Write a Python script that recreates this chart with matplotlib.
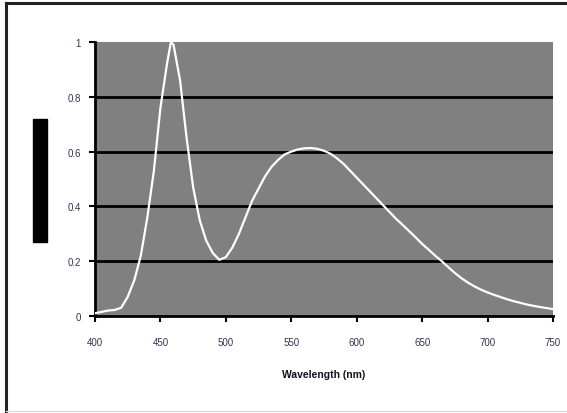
import matplotlib
matplotlib.use("Agg")
import matplotlib.pyplot as plt
from matplotlib.patches import Rectangle
from matplotlib.lines import Line2D

wavelength = [400, 405, 410, 415, 420, 425, 430, 435, 440, 445, 450, 455, 458, 460,
              465, 470, 475, 480, 485, 490, 495, 500, 505, 510, 515, 520, 525, 530,
              535, 540, 545, 550, 555, 560, 565, 570, 575, 580, 585, 590, 595, 600,
              605, 610, 615, 620, 625, 630, 635, 640, 645, 650, 655, 660, 665, 670,
              675, 680, 685, 690, 695, 700, 705, 710, 715, 720, 725, 730, 735, 740,
              745, 750]
intensity = [0.01, 0.015, 0.02, 0.022, 0.03, 0.07, 0.13, 0.22, 0.36, 0.53, 0.76, 0.92, 1.00, 0.99,
             0.86, 0.65, 0.47, 0.35, 0.275, 0.23, 0.205, 0.215, 0.25, 0.30, 0.36, 0.42, 0.465, 0.51,
             0.545, 0.57, 0.59, 0.60, 0.608, 0.612, 0.613, 0.61, 0.603, 0.592, 0.575, 0.555, 0.53, 0.505,
             0.48, 0.455, 0.43, 0.405, 0.38, 0.355, 0.333, 0.31, 0.287, 0.263, 0.242, 0.22, 0.20, 0.178,
             0.157, 0.138, 0.122, 0.108, 0.096, 0.086, 0.077, 0.069, 0.061, 0.054, 0.048, 0.042, 0.037, 0.033,
             0.029, 0.025]
x_ticks = [400, 450, 500, 550, 600, 650, 700, 750]
y_ticks = [0, 0.2, 0.4, 0.6, 0.8, 1]
y_tick_labels = ["0", "0.2", "0.4", "0.6", "0.8", "1"]
x_label = "Wavelength (nm)"

plt.rcParams['font.family'] = ['Liberation Sans', 'DejaVu Sans']

W, H = 567, 414
fig = plt.figure(figsize=(W / 100, H / 100), dpi=100)
fig.patch.set_facecolor("white")

# outer frame
fig.add_artist(Line2D([6 / W, 1.0], [1 - 4 / H, 1 - 4 / H], color="#222222", lw=2.2, transform=fig.transFigure))
fig.add_artist(Line2D([6 / W, 6 / W], [1 - 4 / H, 1 - 412 / H], color="#222222", lw=2.2, transform=fig.transFigure))
fig.add_artist(Line2D([6 / W, 1.0], [1 - 412 / H, 1 - 412 / H], color="#dddddd", lw=1.0, transform=fig.transFigure))

left, right, top, bottom = 95, 553, 43, 317
ax = fig.add_axes([left / W, 1 - bottom / H, (right - left) / W, (bottom - top) / H])
ax.set_facecolor("#808080")

for yv in y_ticks[1:-1]:
    ax.axhline(yv, color="black", lw=2.0, zorder=1)

ax.plot(wavelength, intensity, color="white", lw=1.6, zorder=3)

ax.set_xlim(400, 750)
ax.set_ylim(0, 1)
ax.set_xticks(x_ticks)
ax.set_xticklabels([str(v) for v in x_ticks])
ax.set_yticks(y_ticks)
ax.set_yticklabels(y_tick_labels)
ax.tick_params(axis="both", labelsize=7, colors="black", length=4, width=1.5, direction="out")
ax.tick_params(axis="x", pad=11)
ax.tick_params(axis="y", pad=6)
for lbl in ax.get_xticklabels() + ax.get_yticklabels():
    lbl.set_color("#333355")

ax.spines["top"].set_visible(False)
ax.spines["right"].set_visible(False)
ax.spines["left"].set_linewidth(2.0)
ax.spines["bottom"].set_linewidth(2.0)

ax.set_xlabel(x_label, fontsize=7.5, fontweight="bold", labelpad=16, color="#111122")

# redacted y-axis label bar
fig.add_artist(Rectangle((33 / W, 1 - 243 / H), 14 / W, 123 / H, color="black", transform=fig.transFigure))

fig.savefig("out.png", dpi=100)
